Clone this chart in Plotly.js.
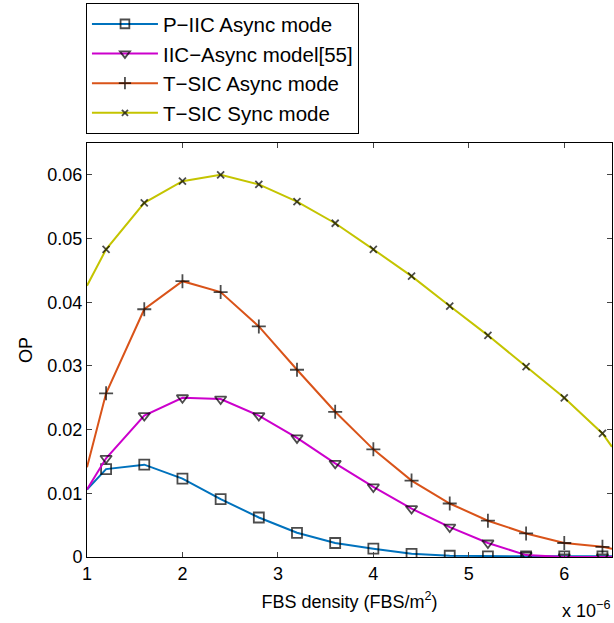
<!DOCTYPE html>
<html>
<head>
<meta charset="utf-8">
<script src="https://cdn.plot.ly/plotly-3.0.1.min.js"></script>
<style>html,body{margin:0;padding:0;background:#fff;}#chart{width:614px;height:623px;}</style>
</head>
<body>
<div id="chart"></div>
<script>
// x values (FBS density, units of 1e-6 FBS/m^2)
const xVals = [1.0, 1.2, 1.6, 2.0, 2.4, 2.8, 3.2, 3.6, 4.0, 4.4, 4.8, 5.2, 5.6, 6.0, 6.4, 6.5];
const markerX = [1.2, 1.6, 2.0, 2.4, 2.8, 3.2, 3.6, 4.0, 4.4, 4.8, 5.2, 5.6, 6.0, 6.4];

const seriesNames = ["P\u2212IIC Async mode", "IIC\u2212Async model[55]", "T\u2212SIC Async mode", "T\u2212SIC Sync mode"];
const pIIC  = [0.0106, 0.0138, 0.0145, 0.0123, 0.0091, 0.0062, 0.0038, 0.0022, 0.0013, 0.0005, 0.0002, 0.0001, 0.0001, 0.0001, 0.0001, 0.0001];
const iicAsync = [0.0106, 0.0155, 0.0222, 0.0250, 0.0248, 0.0222, 0.0187, 0.0147, 0.0110, 0.0076, 0.0047, 0.0022, 0.0003, 0.0, 0.0, 0.0];
const tsicAsync = [0.0141, 0.0257, 0.0389, 0.0433, 0.0416, 0.0362, 0.0294, 0.0228, 0.0169, 0.0120, 0.0084, 0.0057, 0.0037, 0.0022, 0.0016, 0.0013];
const tsicSync = [0.0426, 0.0483, 0.0556, 0.0590, 0.0600, 0.0585, 0.0558, 0.0524, 0.0483, 0.0441, 0.0394, 0.0348, 0.0299, 0.0250, 0.0194, 0.0173];

const colors = ["#0072bd", "#cc00cc", "#d95319", "#c4c400"];
const symbols = ["square-open", "triangle-down-open", "cross-thin-open", "x-thin-open"];
const sizes = [10, 10, 10, 7];
const allY = [pIIC, iicAsync, tsicAsync, tsicSync];

const traces = [];
allY.forEach((ys, i) => {
  const msize = xVals.map(x => markerX.includes(x) ? sizes[i] : 0);
  traces.push({
    x: xVals, y: ys, name: seriesNames[i], type: "scatter", mode: "lines+markers",
    legendgroup: "g" + i,
    line: {color: colors[i], width: 2},
    marker: {symbol: symbols[i], size: msize, color: "#000", line: {color: "#000", width: 1.8}},
    cliponaxis: true
  });
});

const layout = {
  width: 614, height: 623,
  margin: {l: 87, r: 2, t: 143, b: 66},
  paper_bgcolor: "#fff", plot_bgcolor: "#fff",
  font: {family: "Liberation Sans, Arial, sans-serif", size: 18, color: "#000"},
  showlegend: true,
  legend: {
    x: -0.002, y: 1.338, xanchor: "left", yanchor: "top",
    bgcolor: "#fff", bordercolor: "#000", borderwidth: 1,
    font: {size: 20.5}, traceorder: "grouped", tracegroupgap: 0,
    itemwidth: 66
  },
  xaxis: {
    range: [1, 6.5], tickvals: [1, 2, 3, 4, 5, 6], ticks: "inside", ticklen: 5,
    showline: true, linecolor: "#000", linewidth: 1, mirror: "ticks",
    showgrid: false, zeroline: false,
    title: {text: "FBS density (FBS/m<sup>2</sup>)", standoff: 12, font: {size: 18}}
  },
  yaxis: {
    range: [0, 0.065], dtick: 0.01, tick0: 0, ticks: "inside", ticklen: 5,
    showline: true, linecolor: "#000", linewidth: 1, mirror: "ticks",
    showgrid: false, zeroline: false,
    title: {text: "OP", standoff: 10, font: {size: 18}}
  },
  annotations: [{
    text: "x 10<sup>\u22126</sup>", xref: "paper", yref: "paper",
    x: 1.0, y: -0.093, xanchor: "right", yanchor: "top", showarrow: false,
    font: {size: 18}
  }]
};

Plotly.newPlot("chart", traces, layout, {displayModeBar: false, staticPlot: true});
</script>
</body>
</html>
